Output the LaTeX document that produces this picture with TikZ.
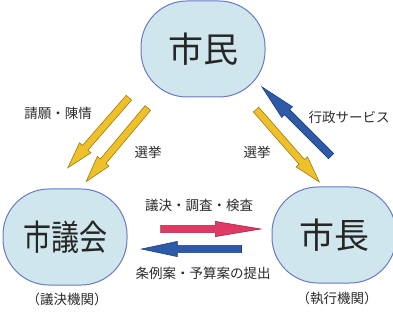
\documentclass[tikz,border=0pt]{standalone}
\usepackage{fontspec}
\setmainfont{Noto Sans CJK JP}
\usetikzlibrary{shapes.arrows}

\definecolor{bubble}{HTML}{CFE6EC}
\definecolor{rim}{HTML}{6A78C8}
\definecolor{yel}{HTML}{EEC02A}
\definecolor{yeldark}{HTML}{A07A10}
\definecolor{rose}{HTML}{E03A64}
\definecolor{rosedark}{HTML}{A02848}
\definecolor{navy}{HTML}{2D5BA8}
\definecolor{navydark}{HTML}{1D3F80}
\definecolor{ink}{HTML}{2A2A2A}

\begin{document}
\begin{tikzpicture}[x=1pt,y=-1pt,
	body/.style={draw=rim, line width=1pt, fill=bubble, rounded corners=46pt,
		minimum width=124pt, minimum height=96pt, inner sep=0pt,
		font=\fontsize{35}{35}\selectfont, text=black!85},
	lbl/.style={font=\fontsize{13.5}{13.5}\selectfont, text=ink, inner sep=0pt},
	blk/.style={single arrow, midway, sloped, allow upside down, inner xsep=0pt,
		inner ysep=3.3pt, single arrow head extend=4pt, line width=0.6pt},
	yarrow/.style={blk, fill=yel, draw=yeldark, single arrow tip angle=32},
	rarrow/.style={blk, fill=rose, draw=rosedark, single arrow tip angle=19},
	barrow/.style={blk, fill=navy, draw=navydark, single arrow tip angle=24}]

	\useasboundingbox (0,0) rectangle (393,320);

	% bodies
	\node[body]	(n0)	at (203,49)	{市民};
	\node[body]	(n1)	at (65,237)	{\scalebox{0.8}[1]{市議会}};
	\node[body]	(n2)	at (334,235)	{市長};

	% block arrows
	\coordinate (a0) at (133,93);	\coordinate (b0) at (72,163);
	\coordinate (a1) at (152,103);	\coordinate (b1) at (90,177);
	\coordinate (a2) at (252,105);	\coordinate (b2) at (315,177);
	\coordinate (a3) at (337,162);	\coordinate (b3) at (268,93);
	\coordinate (a4) at (150,229);	\coordinate (b4) at (250,229);
	\coordinate (a5) at (250,249);	\coordinate (b5) at (150,249);

	\path (a0) -- (b0) node[yarrow, minimum height=93pt] {};
	\path (a1) -- (b1) node[yarrow, minimum height=96pt] {};
	\path (a2) -- (b2) node[yarrow, minimum height=96pt] {};
	\path (a3) -- (b3) node[barrow, minimum height=98pt] {};
	\path (a4) -- (b4) node[rarrow, minimum height=100pt] {};
	\path (a5) -- (b5) node[barrow, minimum height=100pt] {};

	% labels
	\node[lbl]	(t0)	at (58,113)	{請願・陳情};
	\node[lbl]	(t1)	at (148,152)	{選挙};
	\node[lbl]	(t2)	at (349,117)	{行政サービス};
	\node[lbl]	(t3)	at (257,152)	{選挙};
	\node[lbl]	(t4)	at (199,205)	{議決・調査・検査};
	\node[lbl]	(t5)	at (203,273)	{条例案・予算案の提出};
	\node[lbl]	(t6)	at (67,299)	{（議決機関）};
	\node[lbl]	(t7)	at (337,298)	{（執行機関）};
\end{tikzpicture}
\end{document}
